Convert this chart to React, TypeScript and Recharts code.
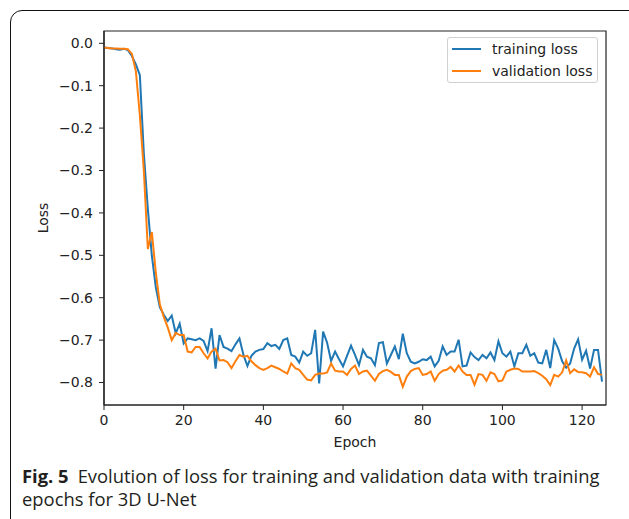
import { Legend, Line, LineChart, ReferenceArea, XAxis, YAxis } from "recharts";

// training / validation loss per epoch (0..125)
const trainingLoss = [
	-0.01, -0.011, -0.012, -0.014, -0.015, -0.013, -0.016, -0.03, -0.05, -0.075,
	-0.26, -0.39, -0.5, -0.575, -0.622, -0.64, -0.655, -0.642, -0.684, -0.661,
	-0.708, -0.696, -0.698, -0.7, -0.696, -0.702, -0.726, -0.672, -0.767, -0.688,
	-0.716, -0.72, -0.726, -0.71, -0.696, -0.735, -0.761, -0.737, -0.727, -0.723,
	-0.721, -0.707, -0.714, -0.711, -0.721, -0.7, -0.696, -0.735, -0.739, -0.753,
	-0.727, -0.737, -0.731, -0.676, -0.802, -0.68, -0.706, -0.749, -0.727, -0.745,
	-0.762, -0.737, -0.713, -0.735, -0.759, -0.723, -0.739, -0.743, -0.759, -0.707,
	-0.705, -0.755, -0.735, -0.715, -0.745, -0.685, -0.731, -0.751, -0.755, -0.751,
	-0.745, -0.747, -0.739, -0.762, -0.749, -0.715, -0.735, -0.727, -0.727, -0.699,
	-0.762, -0.76, -0.729, -0.74, -0.747, -0.735, -0.743, -0.729, -0.747, -0.703,
	-0.731, -0.739, -0.727, -0.762, -0.731, -0.731, -0.711, -0.737, -0.731, -0.753,
	-0.755, -0.723, -0.766, -0.7, -0.72, -0.75, -0.765, -0.755, -0.72, -0.698,
	-0.746, -0.725, -0.767, -0.723, -0.723, -0.798,
];

const validationLoss = [
	-0.01, -0.011, -0.012, -0.012, -0.013, -0.013, -0.014, -0.025, -0.066, -0.17,
	-0.3, -0.485, -0.445, -0.54, -0.615, -0.645, -0.67, -0.7, -0.683, -0.688,
	-0.688, -0.727, -0.729, -0.716, -0.716, -0.731, -0.743, -0.727, -0.72, -0.748,
	-0.747, -0.752, -0.766, -0.75, -0.735, -0.739, -0.737, -0.75, -0.759, -0.766,
	-0.77, -0.766, -0.76, -0.764, -0.768, -0.774, -0.779, -0.755, -0.766, -0.77,
	-0.782, -0.793, -0.795, -0.782, -0.779, -0.779, -0.776, -0.755, -0.772, -0.774,
	-0.774, -0.782, -0.768, -0.76, -0.78, -0.774, -0.772, -0.784, -0.796, -0.78,
	-0.773, -0.77, -0.775, -0.782, -0.782, -0.81, -0.786, -0.773, -0.768, -0.766,
	-0.782, -0.78, -0.774, -0.796, -0.78, -0.772, -0.77, -0.763, -0.774, -0.76,
	-0.774, -0.782, -0.782, -0.805, -0.78, -0.782, -0.796, -0.776, -0.78, -0.797,
	-0.795, -0.774, -0.77, -0.767, -0.768, -0.774, -0.774, -0.774, -0.773, -0.778,
	-0.784, -0.792, -0.806, -0.782, -0.786, -0.776, -0.748, -0.778, -0.769, -0.775,
	-0.776, -0.778, -0.786, -0.764, -0.78, -0.782,
];

const xTicks = [0, 20, 40, 60, 80, 100, 120];
const yTicks = [0, -0.1, -0.2, -0.3, -0.4, -0.5, -0.6, -0.7, -0.8];

const seriesNames = ["training loss", "validation loss"];
const seriesColors = ["#1f77b4", "#ff7f0e"];

const chartData = trainingLoss.map((v, i) => ({
	epoch: i,
	training: v,
	validation: validationLoss[i],
}));

const xDomain = [0, 126];
const yDomain = [-0.853, 0.029];

const font = "'DejaVu Sans', sans-serif";
const ink = "#222";
const tickStyle = { fill: ink, fontSize: 14, fontFamily: font };

const formatY = (v: number) => v.toFixed(1).replace("-", "\u2212");

function LegendBox() {
	return (
		<div
			style={{
				border: "1px solid #d0d0d0",
				borderRadius: 3,
				background: "rgba(255,255,255,0.8)",
				padding: "0 4px",
				fontFamily: font,
				fontSize: 14,
				color: ink,
			}}
		>
			{seriesNames.map((name, i) => (
				<div
					key={name}
					style={{ display: "flex", alignItems: "center", height: 22 }}
				>
					<svg width={29} height={4} style={{ marginRight: 11 }}>
						<line x1={0} y1={2} x2={29} y2={2} stroke={seriesColors[i]} strokeWidth={2} />
					</svg>
					<span>{name}</span>
				</div>
			))}
		</div>
	);
}

export default function App() {
	return (
		<div
			style={{
				position: "fixed",
				top: 0,
				left: 0,
				width: 629,
				height: 519,
				overflow: "hidden",
				background: "#fff",
			}}
		>
			<div
				style={{
					position: "absolute",
					left: 10,
					top: 10,
					width: 660,
					height: 560,
					border: "1.3px solid #111",
					borderRadius: 12,
				}}
			/>
			<div style={{ position: "absolute", left: 0, top: 0 }}>
				<LineChart
					width={629}
					height={519}
					data={chartData}
					margin={{ top: 31, right: 23, left: 34, bottom: 69 }}
				>
					<XAxis
						dataKey="epoch"
						type="number"
						domain={xDomain}
						ticks={xTicks}
						height={45}
						tick={tickStyle}
						tickSize={5}
						tickMargin={5}
						tickLine={{ stroke: ink }}
						axisLine={{ stroke: ink, strokeWidth: 1.2 }}
						allowDataOverflow
						label={{
							value: "Epoch",
							position: "insideBottom",
							offset: 3,
							style: { fill: ink, fontSize: 14, fontFamily: font },
						}}
					/>
					<YAxis
						type="number"
						domain={yDomain}
						ticks={yTicks}
						width={70}
						tick={tickStyle}
						tickSize={5}
						tickMargin={6}
						tickFormatter={formatY}
						tickLine={{ stroke: ink }}
						axisLine={{ stroke: ink, strokeWidth: 1.2 }}
						allowDataOverflow
						label={{
							value: "Loss",
							angle: -90,
							position: "insideLeft",
							offset: 9,
							style: {
								fill: ink,
								fontSize: 14,
								fontFamily: font,
								textAnchor: "middle",
							},
						}}
					/>
					{/* axes frame (top/right spines) */}
					<ReferenceArea
						x1={xDomain[0]}
						x2={xDomain[1]}
						y1={yDomain[0]}
						y2={yDomain[1]}
						fill="none"
						fillOpacity={0}
						stroke={ink}
						strokeWidth={1.2}
						ifOverflow="visible"
					/>
					<Legend
						layout="vertical"
						align="center"
						verticalAlign="middle"
						content={() => <LegendBox />}
						wrapperStyle={{ left: 447, top: 37, width: 151, height: "auto" }}
					/>
					<Line
						type="linear"
						dataKey="training"
						name={seriesNames[0]}
						stroke={seriesColors[0]}
						strokeWidth={2}
						dot={false}
						isAnimationActive={false}
					/>
					<Line
						type="linear"
						dataKey="validation"
						name={seriesNames[1]}
						stroke={seriesColors[1]}
						strokeWidth={2}
						dot={false}
						isAnimationActive={false}
					/>
				</LineChart>
			</div>
			<div
				style={{
					position: "absolute",
					left: 22,
					top: 464,
					fontFamily: "'Open Sans', sans-serif",
					fontSize: 18.4,
					lineHeight: "23px",
					color: "#231f20",
					whiteSpace: "nowrap",
				}}
			>
				<span style={{ fontWeight: 700, marginRight: 9 }}>Fig. 5</span>
				Evolution of loss for training and validation data with training
				<br />
				epochs for 3D U-Net
			</div>
		</div>
	);
}
